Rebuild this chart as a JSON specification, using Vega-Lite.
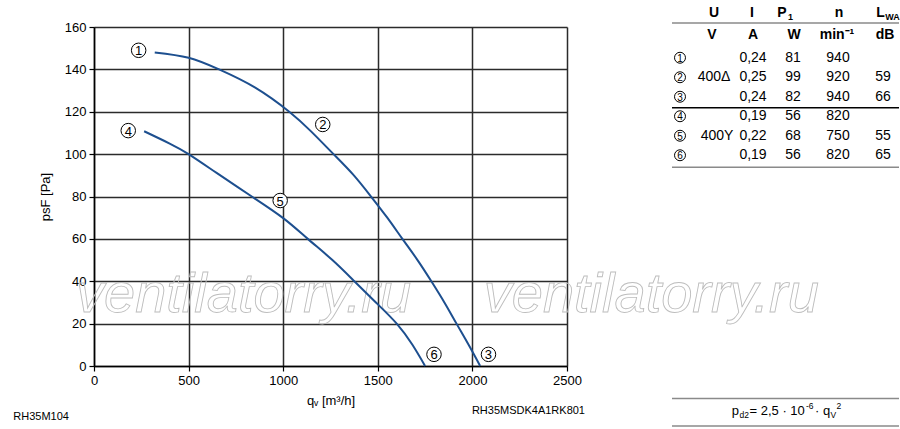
{
  "$schema": "https://vega.github.io/schema/vega-lite/v6.json",
  "background": "white",
  "padding": {"left": 13, "top": 6, "right": 0, "bottom": 0},
  "bounds": "flush",
  "spacing": 105,
  "config": {"font": "Liberation Sans", "view": {"stroke": null}},
  "title": {"text": "RH35M104", "orient": "bottom", "anchor": "start", "frame": "bounds", "fontSize": 11, "fontWeight": "normal", "color": "#000", "dy": -20, "dx": -26},
  "datasets": {
    "curves": [
      {"series": "A", "q": 321, "p": 148.0},
      {"series": "A", "q": 500, "p": 145.5},
      {"series": "A", "q": 661, "p": 140.0},
      {"series": "A", "q": 850, "p": 131.5},
      {"series": "A", "q": 1032, "p": 120.0},
      {"series": "A", "q": 1150, "p": 110.5},
      {"series": "A", "q": 1266, "p": 100.0},
      {"series": "A", "q": 1370, "p": 90.3},
      {"series": "A", "q": 1464, "p": 80.0},
      {"series": "A", "q": 1550, "p": 70.0},
      {"series": "A", "q": 1630, "p": 60.0},
      {"series": "A", "q": 1710, "p": 50.0},
      {"series": "A", "q": 1783, "p": 40.0},
      {"series": "A", "q": 1852, "p": 30.0},
      {"series": "A", "q": 1916, "p": 20.0},
      {"series": "A", "q": 1980, "p": 10.0},
      {"series": "A", "q": 2041, "p": 0.0},
      {"series": "B", "q": 265, "p": 110.8},
      {"series": "B", "q": 400, "p": 105.0},
      {"series": "B", "q": 500, "p": 100.0},
      {"series": "B", "q": 650, "p": 91.0},
      {"series": "B", "q": 834, "p": 80.0},
      {"series": "B", "q": 1000, "p": 69.8},
      {"series": "B", "q": 1130, "p": 60.0},
      {"series": "B", "q": 1260, "p": 50.0},
      {"series": "B", "q": 1376, "p": 40.0},
      {"series": "B", "q": 1490, "p": 30.0},
      {"series": "B", "q": 1600, "p": 20.0},
      {"series": "B", "q": 1683, "p": 10.0},
      {"series": "B", "q": 1750, "p": 0.0}
    ],
    "labels": [
      {"n": "1", "q": 236, "p": 149.0},
      {"n": "2", "q": 1209, "p": 114.0},
      {"n": "3", "q": 2085, "p": 5.5},
      {"n": "4", "q": 181, "p": 111.1},
      {"n": "5", "q": 984, "p": 78.1},
      {"n": "6", "q": 1797, "p": 5.5}
    ],
    "wm": [
      {"t": "ventilatorry.ru", "q": -95, "p": 25.6},
      {"t": "ventilatorry.ru", "q": 2060, "p": 25.6}
    ],
    "lines": [
      {"r": 0.497, "role": "rule"},
      {"r": 4.84, "role": "sep"},
      {"r": 7.9, "role": "rule"},
      {"r": 19.76, "role": "rule"},
      {"r": 21.16, "role": "rule"}
    ],
    "cells": [
      {"c": 4.2, "r": 0, "t": "U", "role": "hdr"},
      {"c": 8.0, "r": 0, "t": "I", "role": "hdr"},
      {"c": 11.0, "r": 0, "t": "P", "role": "hdr"},
      {"c": 16.7, "r": 0, "t": "n", "role": "hdr"},
      {"c": 20.85, "r": 0, "t": "L", "role": "hdr"},
      {"c": 11.85, "r": 0, "t": "1", "role": "hsub"},
      {"c": 22.05, "r": 0, "t": "WA", "role": "hsub"},
      {"c": 4.0, "r": 1.09, "t": "V", "role": "hdr"},
      {"c": 8.1, "r": 1.09, "t": "A", "role": "hdr"},
      {"c": 12.2, "r": 1.09, "t": "W", "role": "hdr"},
      {"c": 16.5, "r": 1.09, "t": "min⁻¹", "role": "hdr"},
      {"c": 21.3, "r": 1.09, "t": "dB", "role": "hdr"},
      {"c": 0.8, "r": 2.28, "t": "1", "role": "circ"},
      {"c": 0.8, "r": 3.28, "t": "2", "role": "circ"},
      {"c": 0.8, "r": 4.28, "t": "3", "role": "circ"},
      {"c": 0.8, "r": 5.28, "t": "4", "role": "circ"},
      {"c": 0.8, "r": 6.28, "t": "5", "role": "circ"},
      {"c": 0.8, "r": 7.28, "t": "6", "role": "circ"},
      {"c": 8.1, "r": 2.28, "t": "0,24", "role": "body"},
      {"c": 12.1, "r": 2.28, "t": "81", "role": "body"},
      {"c": 16.6, "r": 2.28, "t": "940", "role": "body"},
      {"c": 4.2, "r": 3.28, "t": "400Δ", "role": "body"},
      {"c": 8.1, "r": 3.28, "t": "0,25", "role": "body"},
      {"c": 12.1, "r": 3.28, "t": "99", "role": "body"},
      {"c": 16.6, "r": 3.28, "t": "920", "role": "body"},
      {"c": 21.1, "r": 3.28, "t": "59", "role": "body"},
      {"c": 8.1, "r": 4.28, "t": "0,24", "role": "body"},
      {"c": 12.1, "r": 4.28, "t": "82", "role": "body"},
      {"c": 16.6, "r": 4.28, "t": "940", "role": "body"},
      {"c": 21.1, "r": 4.28, "t": "66", "role": "body"},
      {"c": 8.1, "r": 5.28, "t": "0,19", "role": "body"},
      {"c": 12.1, "r": 5.28, "t": "56", "role": "body"},
      {"c": 16.6, "r": 5.28, "t": "820", "role": "body"},
      {"c": 4.5, "r": 6.28, "t": "400Y", "role": "body"},
      {"c": 8.1, "r": 6.28, "t": "0,22", "role": "body"},
      {"c": 12.1, "r": 6.28, "t": "68", "role": "body"},
      {"c": 16.6, "r": 6.28, "t": "750", "role": "body"},
      {"c": 21.1, "r": 6.28, "t": "55", "role": "body"},
      {"c": 8.1, "r": 7.28, "t": "0,19", "role": "body"},
      {"c": 12.1, "r": 7.28, "t": "56", "role": "body"},
      {"c": 16.6, "r": 7.28, "t": "820", "role": "body"},
      {"c": 21.1, "r": 7.28, "t": "65", "role": "body"},
      {"c": 5.97, "r": 20.41, "t": "p", "role": "fm"},
      {"c": 7.75, "r": 20.41, "t": "= 2,5 · 10", "role": "fm"},
      {"c": 14.3, "r": 20.41, "t": "· q", "role": "fm"},
      {"c": 6.75, "r": 20.41, "t": "d2", "role": "fsub"},
      {"c": 15.85, "r": 20.41, "t": "V", "role": "fsub"},
      {"c": 13.4, "r": 20.41, "t": "-6", "role": "fsup"},
      {"c": 16.45, "r": 20.41, "t": "2", "role": "fsup"}
    ]
  },
  "hconcat": [
    {
      "width": 473,
      "height": 339,
      "title": {"text": "RH35MSDK4A1RK801", "orient": "bottom", "anchor": "end", "frame": "group", "fontSize": 11, "fontWeight": "normal", "color": "#000", "dx": 18, "offset": -2},
      "encoding": {
        "x": {"field": "q", "type": "quantitative", "scale": {"domain": [0, 2500], "nice": false},
          "axis": {"values": [0, 500, 1000, 1500, 2000, 2500], "format": "d", "title": "qᵥ [m³/h]", "labelFontSize": 13, "titleFontSize": 13, "titleFontWeight": "normal", "tickSize": 5, "labelPadding": 3, "titlePadding": 7, "gridColor": "#2b2b2b", "gridWidth": 1.5, "gridOpacity": 1, "domainColor": "#000", "domainWidth": 1.5, "tickColor": "#000", "tickWidth": 1.2, "labelColor": "#000", "titleColor": "#000", "labelFlush": false}},
        "y": {"field": "p", "type": "quantitative", "scale": {"domain": [0, 160], "nice": false},
          "axis": {"values": [0, 20, 40, 60, 80, 100, 120, 140, 160], "format": "d", "title": "psF [Pa]", "labelFontSize": 13, "titleFontSize": 13, "titleFontWeight": "normal", "tickSize": 5, "labelPadding": 3, "titlePadding": 12, "gridColor": "#2b2b2b", "gridWidth": 1.5, "gridOpacity": 1, "domainColor": "#000", "domainWidth": 1.5, "tickColor": "#000", "tickWidth": 1.2, "labelColor": "#000", "titleColor": "#000", "labelFlush": false}}
      },
      "layer": [
        {"data": {"name": "wm"}, "mark": {"type": "text", "align": "left", "baseline": "alphabetic", "fontSize": 56, "fontStyle": "italic", "fill": "white", "fillOpacity": 0, "stroke": "#bdbdbd", "strokeWidth": 0.9, "clip": false}, "encoding": {"text": {"field": "t"}}},
        {"data": {"name": "curves"}, "mark": {"type": "line", "interpolate": "natural", "color": "#1d4f8f", "strokeWidth": 2}, "encoding": {"detail": {"field": "series"}}},
        {"data": {"name": "labels"}, "mark": {"type": "point", "shape": "circle", "filled": true, "fill": "white", "stroke": "black", "strokeWidth": 1, "size": 210, "opacity": 1}},
        {"data": {"name": "labels"}, "mark": {"type": "text", "fontSize": 13, "color": "black", "baseline": "middle", "align": "center", "dy": 1}, "encoding": {"text": {"field": "n"}}}
      ]
    },
    {
      "width": 227,
      "height": 390,
      "encoding": {
        "y": {"field": "r", "type": "quantitative", "scale": {"domain": [0.703, 20.703], "nice": false, "zero": false, "reverse": true}, "axis": null}
      },
      "layer": [
        {"data": {"name": "lines"}, "transform": [{"filter": "datum.role == 'rule'"}], "mark": {"type": "rule", "color": "#8a8a8a", "strokeWidth": 1.5, "clip": false}},
        {"data": {"name": "lines"}, "transform": [{"filter": "datum.role == 'sep'"}], "mark": {"type": "rule", "color": "#000", "strokeWidth": 1.5, "clip": false}},
        {"data": {"name": "cells"}, "transform": [{"filter": "datum.role == 'circ'"}], "mark": {"type": "point", "shape": "circle", "filled": true, "fill": "white", "stroke": "black", "strokeWidth": 1, "size": 120, "opacity": 1, "clip": false},
          "encoding": {"x": {"field": "c", "type": "quantitative", "scale": {"domain": [0, 22.7], "nice": false, "zero": false}, "axis": null}}},
        {"data": {"name": "cells"}, "transform": [{"filter": "datum.role == 'circ'"}], "mark": {"type": "text", "fontSize": 10, "color": "black", "baseline": "middle", "align": "center", "dy": 1, "clip": false},
          "encoding": {"x": {"field": "c", "type": "quantitative", "axis": null}, "text": {"field": "t"}}},
        {"data": {"name": "cells"}, "transform": [{"filter": "datum.role == 'hdr'"}], "mark": {"type": "text", "fontSize": 14, "fontWeight": "bold", "color": "black", "baseline": "middle", "align": "center", "clip": false},
          "encoding": {"x": {"field": "c", "type": "quantitative", "axis": null}, "text": {"field": "t"}}},
        {"data": {"name": "cells"}, "transform": [{"filter": "datum.role == 'hsub'"}], "mark": {"type": "text", "fontSize": 9, "fontWeight": "bold", "color": "black", "baseline": "middle", "align": "center", "dy": 4, "clip": false},
          "encoding": {"x": {"field": "c", "type": "quantitative", "axis": null}, "text": {"field": "t"}}},
        {"data": {"name": "cells"}, "transform": [{"filter": "datum.role == 'body'"}], "mark": {"type": "text", "fontSize": 14, "color": "black", "baseline": "middle", "align": "center", "clip": false},
          "encoding": {"x": {"field": "c", "type": "quantitative", "axis": null}, "text": {"field": "t"}}},
        {"data": {"name": "cells"}, "transform": [{"filter": "datum.role == 'fm'"}], "mark": {"type": "text", "fontSize": 13, "color": "black", "baseline": "middle", "align": "left", "clip": false},
          "encoding": {"x": {"field": "c", "type": "quantitative", "axis": null}, "text": {"field": "t"}}},
        {"data": {"name": "cells"}, "transform": [{"filter": "datum.role == 'fsub'"}], "mark": {"type": "text", "fontSize": 8.5, "color": "black", "baseline": "middle", "align": "left", "dy": 4, "clip": false},
          "encoding": {"x": {"field": "c", "type": "quantitative", "axis": null}, "text": {"field": "t"}}},
        {"data": {"name": "cells"}, "transform": [{"filter": "datum.role == 'fsup'"}], "mark": {"type": "text", "fontSize": 8.5, "color": "black", "baseline": "middle", "align": "left", "dy": -5, "clip": false},
          "encoding": {"x": {"field": "c", "type": "quantitative", "axis": null}, "text": {"field": "t"}}}
      ]
    }
  ]
}
